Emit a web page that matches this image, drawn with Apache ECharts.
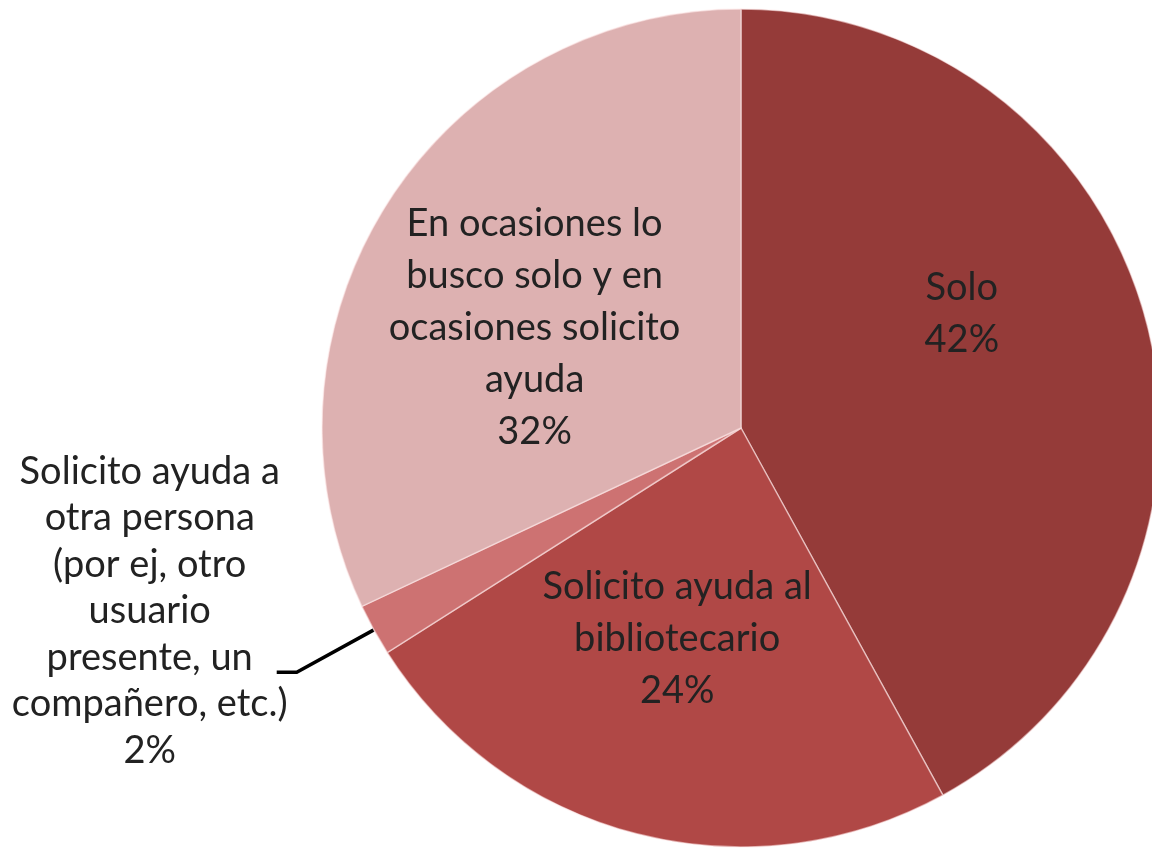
<!DOCTYPE html>
<html>
<head>
<meta charset="utf-8">
<script src="https://cdn.jsdelivr.net/npm/echarts@6/dist/echarts.min.js"></script>
<style>
  html, body { margin: 0; padding: 0; background: #fff; }
  #chart { width: 1152px; height: 851px; }
</style>
</head>
<body>
<div id="chart"></div>
<script>
// categories (line breaks as in the original labels)
var categories = [
  'Solo',
  'Solicito ayuda al\nbibliotecario',
  'Solicito ayuda a\notra persona\n(por ej, otro\nusuario\npresente, un\ncompañero, etc.)',
  'En ocasiones lo\nbusco solo y en\nocasiones solicito\nayuda'
];
var values = [42, 24, 2, 32];
var colors = ['#953B39', '#B04846', '#CD7272', '#DDB1B1'];

// nudges for the inside labels (excel "best fit" placement)
var labelShift = [[15, -61], [-11, 5], null, [-27, 14]];

var chart = echarts.init(document.getElementById('chart'));

var data = categories.map(function (name, i) {
  var item = { name: name, value: values[i], itemStyle: { color: colors[i] } };
  if (i === 2) {
    item.label = {
      position: 'outside',
      width: 280,
      padding: [0, 0, 122, 0],
      formatter: function (p) {
        var lines = p.name.split('\n').concat([p.percent + '%']);
        return lines.map(function (l) { return '{c|' + l + '}'; }).join('\n');
      },
      rich: {
        c: { align: 'center', fontSize: 38, lineHeight: 46.5, color: '#222', fontFamily: 'Lato' }
      }
    };
    item.labelLine = { show: true };
  }
  return item;
});

var option = {
  backgroundColor: '#fff',
  animation: false,
  series: [{
    type: 'pie',
    center: [741, 428],
    radius: 419,
    startAngle: 90,
    clockwise: true,
    avoidLabelOverlap: false,
    itemStyle: { borderColor: 'rgba(255,235,235,0.55)', borderWidth: 1.5 },
    label: {
      show: true,
      position: 'inside',
      formatter: '{b}\n{d}%',
      fontFamily: 'Lato',
      fontSize: 38,
      lineHeight: 52,
      color: '#222',
      distanceToLabelLine: -13
    },
    labelLine: {
      length: 88,
      length2: 20,
      smooth: false,
      lineStyle: { color: '#000', width: 3.5 }
    },
    labelLayout: function (params) {
      var s = labelShift[params.dataIndex];
      if (!s) return {};
      return { dx: s[0], dy: s[1] };
    },
    data: data
  }]
};

chart.setOption(option);
</script>
</body>
</html>
